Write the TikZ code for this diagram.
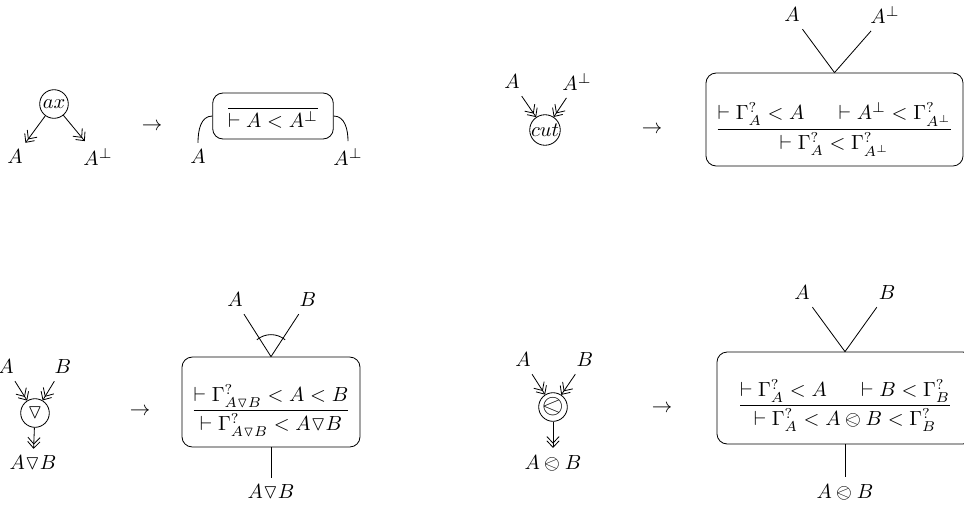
\documentclass[tikz,border=0pt]{standalone}
\usepackage{tikz}
\usepackage{amsmath,amssymb}
\usepackage{stmaryrd}
\usetikzlibrary{arrows.meta}

\tikzset{
  gate/.style={circle, draw, inner sep=0pt, minimum size=14pt},
  rulebox/.style={draw, rounded corners=5pt, inner sep=2pt},
  link/.style={-{Straight Barb[length=3.2pt,width=6pt,sep=-1.6pt]Straight Barb[length=3.2pt,width=6pt]}},
}
\newcommand{\lowered}[2]{\raisebox{#1}[\height][\depth]{#2}}

\begin{document}
\begin{tikzpicture}[x=0.0172cm, y=-0.0172cm]
  \useasboundingbox (0,0) rectangle (964,509);
  \draw
    (54,104) node[gate] (ax){$ax$}
    (15,157) node (axA){$A$}
    (98,157) node (axAp){$A^\perp$}
    (152,127) node (to1){$\rightarrow$}
    (273,116) node[rulebox, minimum width=59pt, minimum height=22.5pt] (axbox){\lowered{1pt}{$\dfrac{}{\vdash A < A^\perp}$}}
    (198,157) node (axwA){$A$}
    (348,157) node (axwAp){$A^\perp$}
    (512,82) node (cutA){$A$}
    (577,82) node (cutAp){$A^\perp$}
    (545,130) node[gate] (cut){$cut$}
    (652,130) node (to2){$\rightarrow$}
    (834.5,119.5) node[rulebox, minimum width=125.8pt, minimum height=45.5pt] (cutbox){\lowered{-5pt}{$\dfrac{\vdash \Gamma^?_A < A \hspace{14pt} \vdash A^\perp < \Gamma^?_{A^\perp}}{\vdash \Gamma^?_A < \Gamma^?_{A^\perp}}$}}
    (792,15) node (cutwA){$A$}
    (885,15) node (cutwAp){$A^\perp$}
    (6,367) node (parA){$A$}
    (63,367) node (parB){$B$}
    (35,413) node[gate] (par){$\triangledown$}
    (33,463) node (parAB){$A\triangledown B$}
    (140,412) node (to3){$\rightarrow$}
    (271,402) node[rulebox, minimum width=87.1pt, minimum height=44pt] (parbox){\lowered{-4pt}{$\dfrac{\vdash \Gamma^?_{A\triangledown B} < A < B}{\vdash \Gamma^?_{A\triangledown B} < A\triangledown B}$}}
    (235,300) node (parwA){$A$}
    (308,300) node (parwB){$B$}
    (271,492) node (parwAB){$A\triangledown B$}
    (523,360) node (tenA){$A$}
    (585,360) node (tenB){$B$}
    (553,407) node[gate] (ten){\scalebox{1.35}{$\olessthan$}}
    (553,463) node (tenAB){$A \olessthan B$}
    (662,409) node (to4){$\rightarrow$}
    (845,398) node[rulebox, minimum width=125.3pt, minimum height=45pt] (tenbox){\lowered{-3.5pt}{$\dfrac{\vdash \Gamma^?_A < A \hspace{14pt} \vdash B < \Gamma^?_B}{\vdash \Gamma^?_A < A \olessthan B < \Gamma^?_B}$}}
    (802,293) node (tenwA){$A$}
    (887,293) node (tenwB){$B$}
    (845,492) node (tenwAB){$A \olessthan B$};
  \begin{scope}[link]
    \draw (ax) to (axA);
    \draw (ax) to (axAp);
    \draw (cutA) to (cut);
    \draw (cutAp) to (cut);
    \draw (parA) to (par);
    \draw (parB) to (par);
    \draw (par) to (parAB);
    \draw (tenA) to (ten);
    \draw (tenB) to (ten);
    \draw (ten) to (tenAB);
  \end{scope}
  \begin{scope}[-]
    \draw (axbox.west) to[out=180, in=90] (axwA.north);
    \draw (axbox.east) to[out=0, in=90] (axwAp.north);
    \draw (cutwA) to (cutbox.north);
    \draw (cutwAp) to (cutbox.north);
    \draw (parwA) to (parbox.north);
    \draw (parwB) to (parbox.north);
    \draw (parbox.north) ++(-130:22) arc[start angle=-130, end angle=-50, radius=22];
    \draw (parbox.south) to (parwAB);
    \draw (tenwA) to (tenbox.north);
    \draw (tenwB) to (tenbox.north);
    \draw (tenbox.south) to (tenwAB);
  \end{scope}
\end{tikzpicture}
\end{document}
